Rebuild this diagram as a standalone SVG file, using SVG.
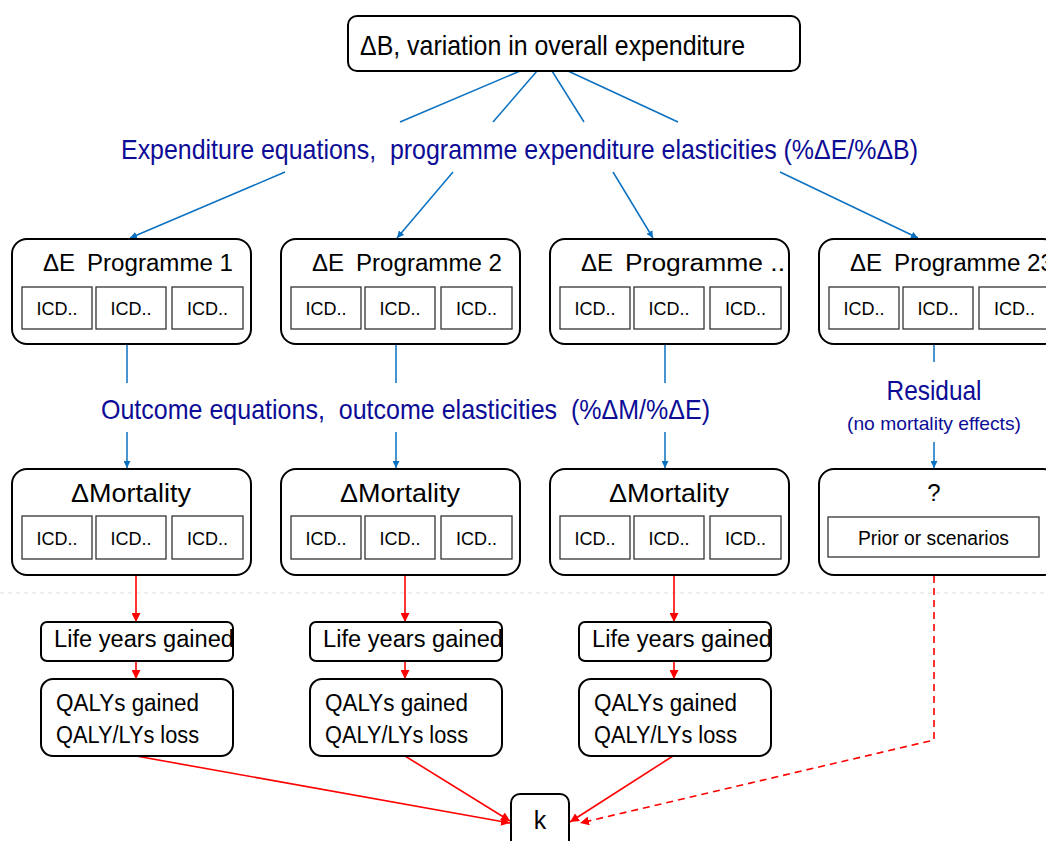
<svg xmlns="http://www.w3.org/2000/svg" width="1046" height="841" viewBox="0 0 1046 841">
<style>
.box{fill:#fff;stroke:#000;stroke-width:2}
.icd{fill:#fff;stroke:#333;stroke-width:1.3}
.t{font-family:"Liberation Sans",Arial,sans-serif;fill:#000}
.lbl{font-family:"Liberation Sans",Arial,sans-serif;fill:#0c0c96}
.icdt{font-family:"Liberation Sans",Arial,sans-serif;font-size:18px;text-anchor:middle;fill:#000}
.blue{stroke:#0a70c0;stroke-width:1.5;fill:none}
.red{stroke:#ff0000;stroke-width:1.6;fill:none}
</style>
<defs>
<marker id="ab" viewBox="0 0 10 10" refX="10" refY="5" markerWidth="7" markerHeight="7" orient="auto" markerUnits="userSpaceOnUse"><path d="M0,0 L10,5 L0,10 z" fill="#0a70c0"/></marker>
<marker id="ar" viewBox="0 0 10 10" refX="10" refY="5" markerWidth="9" markerHeight="9" orient="auto" markerUnits="userSpaceOnUse"><path d="M0,0 L10,5 L0,10 z" fill="#ff0000"/></marker>
</defs>
<rect width="1046" height="841" fill="#fff"/>
<line x1="0" y1="593" x2="1046" y2="593" stroke="#dedede" stroke-width="1" stroke-dasharray="4,4"/>

<g id="connectors">
<line class="blue" x1="520" y1="71" x2="400" y2="122"/>
<line class="blue" x1="537" y1="71" x2="493" y2="122"/>
<line class="blue" x1="552" y1="71" x2="584" y2="122"/>
<line class="blue" x1="568" y1="71" x2="678" y2="122"/>
<line class="blue" x1="285" y1="172" x2="130" y2="238" marker-end="url(#ab)"/>
<line class="blue" x1="453" y1="172" x2="397" y2="238" marker-end="url(#ab)"/>
<line class="blue" x1="613" y1="172" x2="653" y2="238" marker-end="url(#ab)"/>
<line class="blue" x1="780" y1="172" x2="918" y2="238" marker-end="url(#ab)"/>
<line class="blue" x1="127" y1="345" x2="127" y2="383"/>
<line class="blue" x1="127" y1="432" x2="127" y2="468" marker-end="url(#ab)"/>
<line class="blue" x1="396" y1="345" x2="396" y2="383"/>
<line class="blue" x1="396" y1="432" x2="396" y2="468" marker-end="url(#ab)"/>
<line class="blue" x1="665" y1="345" x2="665" y2="383"/>
<line class="blue" x1="665" y1="432" x2="665" y2="468" marker-end="url(#ab)"/>
<line class="blue" x1="934" y1="345" x2="934" y2="362"/>
<line class="blue" x1="934" y1="442" x2="934" y2="468" marker-end="url(#ab)"/>
<line class="red" x1="136" y1="576" x2="136" y2="622" marker-end="url(#ar)"/>
<line class="red" x1="405" y1="576" x2="405" y2="622" marker-end="url(#ar)"/>
<line class="red" x1="674" y1="576" x2="674" y2="622" marker-end="url(#ar)"/>
<line class="red" x1="136" y1="661" x2="136" y2="679" marker-end="url(#ar)"/>
<line class="red" x1="405" y1="661" x2="405" y2="679" marker-end="url(#ar)"/>
<line class="red" x1="674" y1="661" x2="674" y2="679" marker-end="url(#ar)"/>
<line class="red" x1="136" y1="756" x2="510" y2="823" marker-end="url(#ar)"/>
<line class="red" x1="405" y1="756" x2="510" y2="821" marker-end="url(#ar)"/>
<line class="red" x1="673" y1="756" x2="570" y2="822" marker-end="url(#ar)"/>
<polyline class="red" points="934,576 934,740 580,823" stroke-dasharray="7,5" marker-end="url(#ar)"/>
</g>

<g id="budget">
<rect class="box" x="348" y="16" width="452" height="55" rx="9"/>
<text class="t" x="360" y="55" font-size="28" textLength="385" lengthAdjust="spacingAndGlyphs">ΔB, variation in overall expenditure</text>
</g>
<g id="label-expenditure">
<text class="lbl" x="121" y="159" font-size="28" textLength="797" lengthAdjust="spacingAndGlyphs" style="white-space:pre">Expenditure equations,  programme expenditure elasticities (%ΔE/%ΔB)</text>
</g>
<g id="label-outcome">
<text class="lbl" x="101" y="419" font-size="28" textLength="609" lengthAdjust="spacingAndGlyphs" style="white-space:pre">Outcome equations,  outcome elasticities  (%ΔM/%ΔE)</text>
</g>
<g id="label-residual">
<text class="lbl" x="934" y="400" font-size="28" text-anchor="middle" textLength="95" lengthAdjust="spacingAndGlyphs">Residual</text>
<text class="lbl" x="934" y="430" font-size="19" text-anchor="middle" textLength="174" lengthAdjust="spacingAndGlyphs">(no mortality effects)</text>
</g>

<g id="prog1">
<rect class="box" x="12" y="239" width="239" height="105" rx="15"/>
<text class="t" x="43" y="271" font-size="24"><tspan>ΔE</tspan><tspan x="87" textLength="146" lengthAdjust="spacingAndGlyphs" font-size="23">Programme 1</tspan></text>
<rect class="icd" x="22" y="287" width="70" height="42"/><text class="icdt" x="57" y="315">ICD..</text>
<rect class="icd" x="96" y="287" width="70" height="42"/><text class="icdt" x="131" y="315">ICD..</text>
<rect class="icd" x="172" y="287" width="71" height="42"/><text class="icdt" x="207.5" y="315">ICD..</text>
</g>
<g id="prog2">
<rect class="box" x="281" y="239" width="239" height="105" rx="15"/>
<text class="t" x="312" y="271" font-size="24"><tspan>ΔE</tspan><tspan x="356" textLength="146" lengthAdjust="spacingAndGlyphs" font-size="23">Programme 2</tspan></text>
<rect class="icd" x="291" y="287" width="70" height="42"/><text class="icdt" x="326" y="315">ICD..</text>
<rect class="icd" x="365" y="287" width="70" height="42"/><text class="icdt" x="400" y="315">ICD..</text>
<rect class="icd" x="441" y="287" width="71" height="42"/><text class="icdt" x="476.5" y="315">ICD..</text>
</g>
<g id="prog3">
<rect class="box" x="550" y="239" width="239" height="105" rx="15"/>
<text class="t" x="581" y="271" font-size="24"><tspan>ΔE</tspan><tspan x="625" textLength="160" lengthAdjust="spacingAndGlyphs" font-size="23">Programme ..</tspan></text>
<rect class="icd" x="560" y="287" width="70" height="42"/><text class="icdt" x="595" y="315">ICD..</text>
<rect class="icd" x="634" y="287" width="70" height="42"/><text class="icdt" x="669" y="315">ICD..</text>
<rect class="icd" x="710" y="287" width="71" height="42"/><text class="icdt" x="745.5" y="315">ICD..</text>
</g>
<g id="prog23">
<rect class="box" x="819" y="239" width="239" height="105" rx="15"/>
<text class="t" x="850" y="271" font-size="24"><tspan>ΔE</tspan><tspan x="894" textLength="160" lengthAdjust="spacingAndGlyphs" font-size="23">Programme 23</tspan></text>
<rect class="icd" x="829" y="287" width="70" height="42"/><text class="icdt" x="864" y="315">ICD..</text>
<rect class="icd" x="903" y="287" width="70" height="42"/><text class="icdt" x="938" y="315">ICD..</text>
<rect class="icd" x="979" y="287" width="71" height="42"/><text class="icdt" x="1014.5" y="315">ICD..</text>
</g>

<g id="mort1">
<rect class="box" x="12" y="469" width="239" height="106" rx="15"/>
<text class="t" x="131" y="502" font-size="25" text-anchor="middle" textLength="120" lengthAdjust="spacingAndGlyphs">ΔMortality</text>
<rect class="icd" x="22" y="516" width="70" height="43"/><text class="icdt" x="57" y="545">ICD..</text>
<rect class="icd" x="96" y="516" width="70" height="43"/><text class="icdt" x="131" y="545">ICD..</text>
<rect class="icd" x="172" y="516" width="71" height="43"/><text class="icdt" x="207.5" y="545">ICD..</text>
</g>
<g id="mort2">
<rect class="box" x="281" y="469" width="239" height="106" rx="15"/>
<text class="t" x="400" y="502" font-size="25" text-anchor="middle" textLength="120" lengthAdjust="spacingAndGlyphs">ΔMortality</text>
<rect class="icd" x="291" y="516" width="70" height="43"/><text class="icdt" x="326" y="545">ICD..</text>
<rect class="icd" x="365" y="516" width="70" height="43"/><text class="icdt" x="400" y="545">ICD..</text>
<rect class="icd" x="441" y="516" width="71" height="43"/><text class="icdt" x="476.5" y="545">ICD..</text>
</g>
<g id="mort3">
<rect class="box" x="550" y="469" width="239" height="106" rx="15"/>
<text class="t" x="669" y="502" font-size="25" text-anchor="middle" textLength="120" lengthAdjust="spacingAndGlyphs">ΔMortality</text>
<rect class="icd" x="560" y="516" width="70" height="43"/><text class="icdt" x="595" y="545">ICD..</text>
<rect class="icd" x="634" y="516" width="70" height="43"/><text class="icdt" x="669" y="545">ICD..</text>
<rect class="icd" x="710" y="516" width="71" height="43"/><text class="icdt" x="745.5" y="545">ICD..</text>
</g>
<g id="mort-residual">
<rect class="box" x="819" y="469" width="239" height="106" rx="15"/>
<text class="t" x="934" y="501" font-size="24" text-anchor="middle">?</text>
<rect class="icd" x="828" y="517" width="211" height="40"/>
<text class="t" x="933.5" y="545" font-size="20" text-anchor="middle" textLength="151" lengthAdjust="spacingAndGlyphs">Prior or scenarios</text>
</g>

<g id="ly1">
<rect class="box" x="41" y="622" width="192" height="39" rx="6" stroke-width="1.6"/>
<text class="t" x="54" y="647" font-size="23" textLength="180" lengthAdjust="spacingAndGlyphs">Life years gained</text>
</g>
<g id="ly2">
<rect class="box" x="310" y="622" width="192" height="39" rx="6" stroke-width="1.6"/>
<text class="t" x="323" y="647" font-size="23" textLength="180" lengthAdjust="spacingAndGlyphs">Life years gained</text>
</g>
<g id="ly3">
<rect class="box" x="579" y="622" width="192" height="39" rx="6" stroke-width="1.6"/>
<text class="t" x="592" y="647" font-size="23" textLength="180" lengthAdjust="spacingAndGlyphs">Life years gained</text>
</g>
<g id="qaly1">
<rect class="box" x="41" y="679" width="192" height="77" rx="12" stroke-width="1.6"/>
<text class="t" x="56" y="711" font-size="23" textLength="143" lengthAdjust="spacingAndGlyphs">QALYs gained</text>
<text class="t" x="56" y="743" font-size="23" textLength="143" lengthAdjust="spacingAndGlyphs">QALY/LYs loss</text>
</g>
<g id="qaly2">
<rect class="box" x="310" y="679" width="192" height="77" rx="12" stroke-width="1.6"/>
<text class="t" x="325" y="711" font-size="23" textLength="143" lengthAdjust="spacingAndGlyphs">QALYs gained</text>
<text class="t" x="325" y="743" font-size="23" textLength="143" lengthAdjust="spacingAndGlyphs">QALY/LYs loss</text>
</g>
<g id="qaly3">
<rect class="box" x="579" y="679" width="192" height="77" rx="12" stroke-width="1.6"/>
<text class="t" x="594" y="711" font-size="23" textLength="143" lengthAdjust="spacingAndGlyphs">QALYs gained</text>
<text class="t" x="594" y="743" font-size="23" textLength="143" lengthAdjust="spacingAndGlyphs">QALY/LYs loss</text>
</g>
<g id="k">
<rect class="box" x="511" y="794" width="58" height="70" rx="9" stroke-width="1.6"/>
<text class="t" x="540" y="829" font-size="25" text-anchor="middle">k</text>
</g>
</svg>
